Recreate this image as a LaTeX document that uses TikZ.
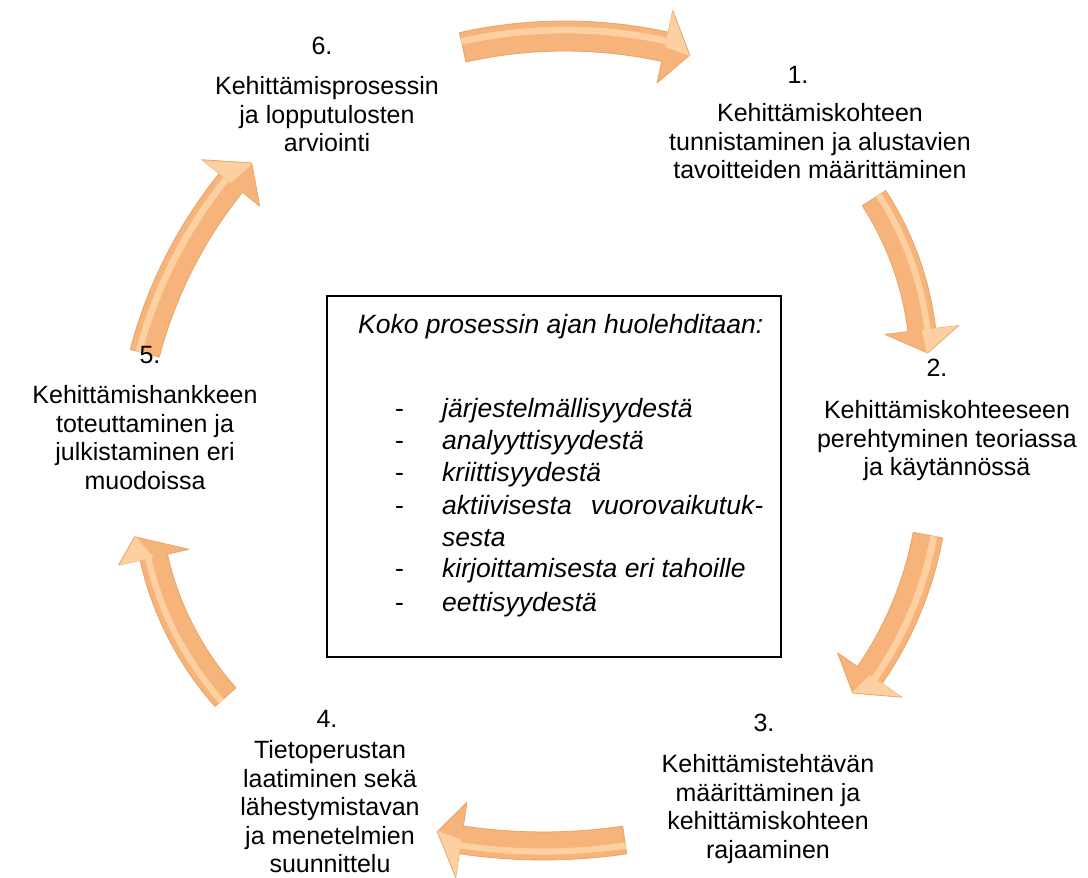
\documentclass[tikz,border=0pt]{standalone}
\usepackage{fontspec}
\setmainfont{Liberation Sans}
\usetikzlibrary{calc}
\definecolor{arbase}{HTML}{F6B47A}
\definecolor{arlight}{HTML}{FCD0A0}
\definecolor{aredge}{HTML}{E9A466}
\newcommand{\bendarrow}[9]{% cx cy R w h a1 a2 a3 tipdelta
  \coordinate (c) at (#1,#2);
  \fill[arbase, draw=aredge, line width=0.8pt, line join=round]
    ($(c)+(#6:{#3pt+#4pt})$) arc[start angle=#6, end angle=#7, radius={#3pt+#4pt}]
    -- ($(c)+(#7:{#3pt+#5pt})$) -- ($(c)+(#8:{#3pt+#9pt})$) -- ($(c)+(#7:{#3pt-#5pt})$)
    -- ($(c)+(#7:{#3pt-#4pt})$) arc[start angle=#7, end angle=#6, radius={#3pt-#4pt}] -- cycle;
  \draw[arlight, line width={0.45*#4pt}]
    ($(c)+(#6:{#3pt+0.4*#4pt})$) arc[start angle=#6, end angle=#7, radius={#3pt+0.4*#4pt}];
  \fill[arlight] ($(c)+(#7:{#3pt+#5pt-1pt})$) -- ($(c)+(#8:{#3pt+#9pt-1pt})$) -- ($(c)+(#7:{#3pt})$) -- cycle;
}
\tikzset{
  steptext/.style={font=\fontsize{25}{28.5}\selectfont, align=center, anchor=base, inner sep=0pt},
  boxtext/.style={font=\fontsize{26.5}{32}\selectfont\itshape, anchor=base west, inner sep=0pt},
  dashtext/.style={font=\fontsize{26.5}{32}\selectfont, anchor=base west, inner sep=0pt},
  framebox/.style={draw=black, line width=1.5pt}
}
\begin{document}
\begin{tikzpicture}[x=1pt,y=1pt]
\useasboundingbox (0,0) rectangle (1088,878);
\fill[white] (0,0) rectangle (1088,878);

% arrows
\bendarrow{565}{373}{469}{15}{37}{102.6}{77.7}{74.5}{-2}
\bendarrow{614}{511}{310}{14}{37}{33.0}{6.85}{2.55}{4}
\bendarrow{571}{409}{363}{15}{39}{-10.5}{-34.6}{-38.5}{-3}
\bendarrow{543.5}{588}{556}{14}{38}{-81.6}{-98.5}{-101.1}{-4}
\bendarrow{461}{390}{315}{14}{36}{221.6}{192.7}{188.5}{15}
\bendarrow{588.5}{407.5}{459}{15}{37}{165.2}{141.2}{137.6}{-3}

% step texts (anchor = baseline of the last line)
\node[steptext] (n6) at (322,823) {6.};
\node[steptext] (t6) at (327,726) {Kehittämisprosessin\\ja lopputulosten\\arviointi};
\node[steptext] (n1) at (798,794) {1.};
\node[steptext] (t1) at (820,699) {Kehittämiskohteen\\tunnistaminen ja alustavien\\tavoitteiden määrittäminen};
\node[steptext] (n2) at (937,501) {2.};
\node[steptext] (t2) at (947,402) {Kehittämiskohteeseen\\perehtyminen teoriassa\\ja käytännössä};
\node[steptext] (n3) at (764,146) {3.};
\node[steptext] (t3) at (768,19.5) {Kehittämistehtävän\\määrittäminen ja\\kehittämiskohteen\\rajaaminen};
\node[steptext] (n4) at (327,150) {4.};
\node[steptext] (t4) at (330,5) {Tietoperustan\\laatiminen sekä\\lähestymistavan\\ja menetelmien\\suunnittelu};
\node[steptext] (n5) at (150,514) {5.};
\node[steptext] (t5) at (145,388.5) {Kehittämishankkeen\\toteuttaminen ja\\julkistaminen eri\\muodoissa};

% central box
\draw[framebox] (327,221) rectangle (781,582);
\node[boxtext] (head) at (358,544) {Koko prosessin ajan huolehditaan:};
\node[dashtext] (d1) at (395,460) {-};
\node[dashtext] (d2) at (395,428) {-};
\node[dashtext] (d3) at (395,396) {-};
\node[dashtext] (d4) at (395,363) {-};
\node[dashtext] (d5) at (395,300) {-};
\node[dashtext] (d6) at (395,266) {-};
\node[boxtext] (i1) at (442,460) {järjestelmällisyydestä};
\node[boxtext] (i2) at (442,428) {analyyttisyydestä};
\node[boxtext] (i3) at (442,396) {kriittisyydestä};
\node[boxtext] (i4) at (442,363) {\hbox to 321pt{aktiivisesta\hfill vuorovaikutuk-}};
\node[boxtext] (i4b) at (442,331) {sesta};
\node[boxtext] (i5) at (442,300) {kirjoittamisesta eri tahoille};
\node[boxtext] (i6) at (442,266) {eettisyydestä};
\end{tikzpicture}
\end{document}
